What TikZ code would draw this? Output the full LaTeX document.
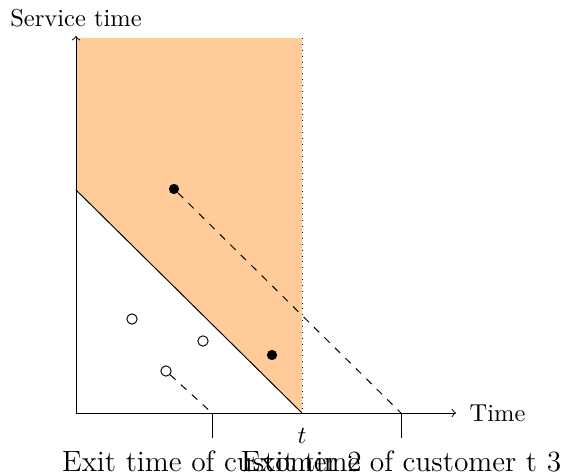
\documentclass[tikz,border=0pt]{standalone}
\begin{document}
\begin{tikzpicture}[x=0.4082pt,y=-0.4082pt,
  fdot/.style={circle,fill=black,inner sep=0pt,minimum size=4.2pt},
  odot/.style={circle,draw=black,fill=white,inner sep=0pt,minimum size=4.2pt},
  exitlbl/.style={font=\large}]
\useasboundingbox (0,0) rectangle (561,475);
\coordinate (O) at (76,413);
\coordinate (ytop) at (76,36);
\coordinate (xend) at (456,413);
\coordinate (T) at (302,413);
\coordinate (Ttop) at (302,38);
\coordinate (S) at (76,190);
\coordinate (k2) at (212,413);
\coordinate (k2b) at (212,438);
\coordinate (k3) at (401,413);
\coordinate (k3b) at (401,438);
\fill[orange!40] (76,38) -- (Ttop) -- (T) -- (S) -- cycle;
\draw[->] (O) -- (ytop);
\draw[->] (O) -- (xend);
\draw[dotted] (Ttop) -- (T);
\draw (S) -- (T);
\draw (k2) -- (k2b);
\draw (k3) -- (k3b);
\node[fdot] (d1) at (174,189) {};
\node[fdot] (d2) at (272,355) {};
\node[odot] (c1) at (132,319) {};
\node[odot] (c2) at (203,341) {};
\node[odot] (c3) at (166,371) {};
\draw[dashed] (d1) -- (k3);
\draw[dashed] (c3) -- (k2);
\node[anchor=south] (ylbl) at (76,36) {Service time};
\node[anchor=west] (xlbl) at (461,413) {Time};
\node (tlbl) at (302,436) {$t$};
\node[exitlbl] (e2) at (212,461) {Exit time of customer 2};
\node[exitlbl] (e3) at (401,461) {Exit time of customer t 3};
\end{tikzpicture}
\end{document}
